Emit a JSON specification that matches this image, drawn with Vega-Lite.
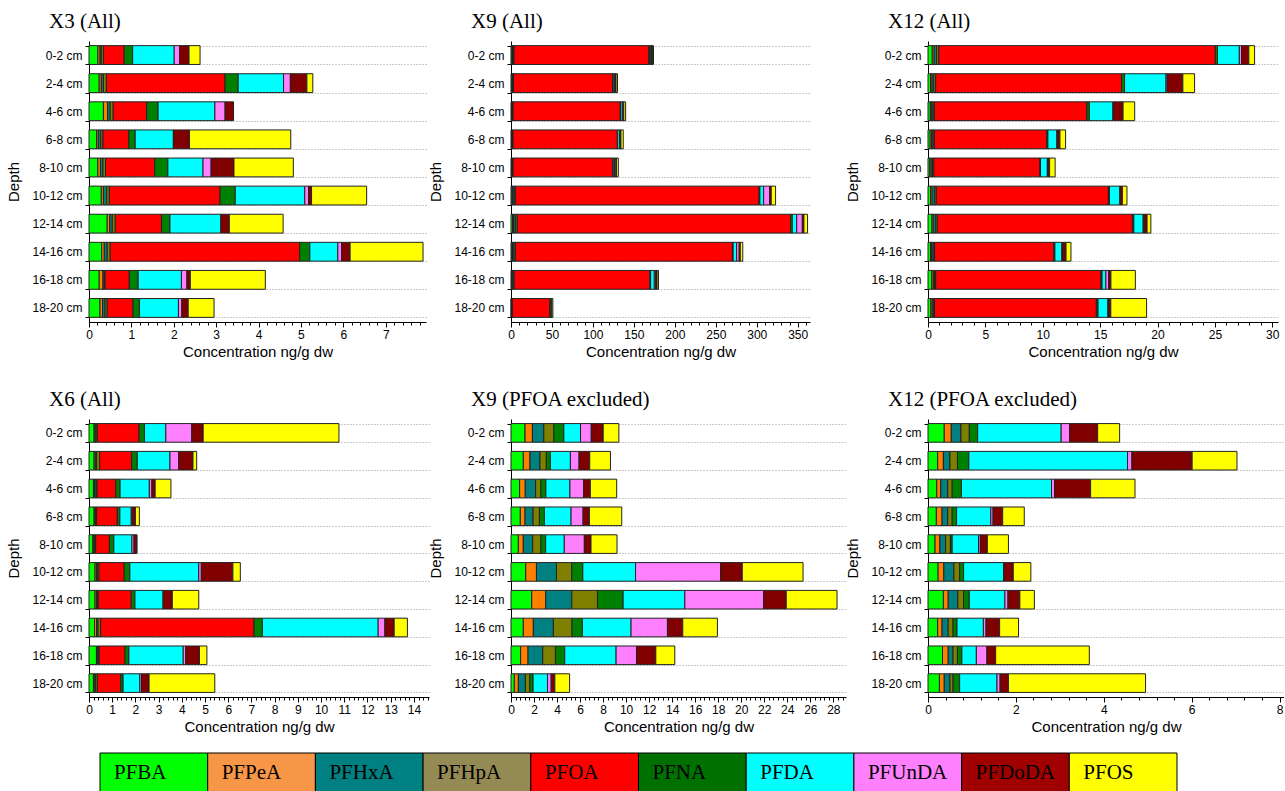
{
  "$schema": "https://vega.github.io/schema/vega-lite/v6.json",
  "padding": {"left": 6, "top": 11, "right": 0, "bottom": 0},
  "background": "white",
  "datasets": {
    "x3": [
      {"d": "0-2 cm", "PFBA": 0.21, "PFPeA": 0.05, "PFHxA": 0.03, "PFHpA": 0.05, "PFOA": 0.49, "PFNA": 0.20, "PFDA": 0.98, "PFUnDA": 0.13, "PFDoDA": 0.22, "PFOS": 0.26},
      {"d": "2-4 cm", "PFBA": 0.24, "PFPeA": 0.05, "PFHxA": 0.05, "PFHpA": 0.07, "PFOA": 2.80, "PFNA": 0.31, "PFDA": 1.07, "PFUnDA": 0.16, "PFDoDA": 0.39, "PFOS": 0.14},
      {"d": "4-6 cm", "PFBA": 0.34, "PFPeA": 0.10, "PFHxA": 0.06, "PFHpA": 0.07, "PFOA": 0.79, "PFNA": 0.27, "PFDA": 1.34, "PFUnDA": 0.24, "PFDoDA": 0.20, "PFOS": 0},
      {"d": "6-8 cm", "PFBA": 0.18, "PFPeA": 0.04, "PFHxA": 0.06, "PFHpA": 0.05, "PFOA": 0.61, "PFNA": 0.15, "PFDA": 0.90, "PFUnDA": 0, "PFDoDA": 0.38, "PFOS": 2.39},
      {"d": "8-10 cm", "PFBA": 0.21, "PFPeA": 0.06, "PFHxA": 0.06, "PFHpA": 0.06, "PFOA": 1.16, "PFNA": 0.31, "PFDA": 0.83, "PFUnDA": 0.19, "PFDoDA": 0.54, "PFOS": 1.40},
      {"d": "10-12 cm", "PFBA": 0.29, "PFPeA": 0.05, "PFHxA": 0.08, "PFHpA": 0.06, "PFOA": 2.61, "PFNA": 0.36, "PFDA": 1.64, "PFUnDA": 0.09, "PFDoDA": 0.07, "PFOS": 1.30},
      {"d": "12-14 cm", "PFBA": 0.43, "PFPeA": 0.06, "PFHxA": 0.06, "PFHpA": 0.07, "PFOA": 1.09, "PFNA": 0.20, "PFDA": 1.20, "PFUnDA": 0, "PFDoDA": 0.20, "PFOS": 1.27},
      {"d": "14-16 cm", "PFBA": 0.30, "PFPeA": 0.06, "PFHxA": 0.07, "PFHpA": 0.07, "PFOA": 4.47, "PFNA": 0.24, "PFDA": 0.66, "PFUnDA": 0.09, "PFDoDA": 0.20, "PFOS": 1.72},
      {"d": "16-18 cm", "PFBA": 0.24, "PFPeA": 0.09, "PFHxA": 0.03, "PFHpA": 0.02, "PFOA": 0.57, "PFNA": 0.21, "PFDA": 1.02, "PFUnDA": 0.13, "PFDoDA": 0.08, "PFOS": 1.77},
      {"d": "18-20 cm", "PFBA": 0.26, "PFPeA": 0.06, "PFHxA": 0.06, "PFHpA": 0.05, "PFOA": 0.61, "PFNA": 0.15, "PFDA": 0.92, "PFUnDA": 0.08, "PFDoDA": 0.15, "PFOS": 0.61}
    ],
    "x9": [
      {"d": "0-2 cm", "PFBA": 1.22, "PFPeA": 0.64, "PFHxA": 0.99, "PFHpA": 0.87, "PFOA": 164.6, "PFNA": 0.87, "PFDA": 1.45, "PFUnDA": 0.93, "PFDoDA": 1.04, "PFOS": 1.36},
      {"d": "2-4 cm", "PFBA": 1.07, "PFPeA": 0.58, "PFHxA": 0.87, "PFHpA": 0.55, "PFOA": 121.4, "PFNA": 0.35, "PFDA": 1.74, "PFUnDA": 0.75, "PFDoDA": 0.93, "PFOS": 1.80},
      {"d": "4-6 cm", "PFBA": 0.75, "PFPeA": 0.49, "PFHxA": 0.90, "PFHpA": 0.46, "PFOA": 130.8, "PFNA": 0.43, "PFDA": 2.09, "PFUnDA": 1.19, "PFDoDA": 0.58, "PFOS": 2.29},
      {"d": "6-8 cm", "PFBA": 0.81, "PFPeA": 0.41, "PFHxA": 0.70, "PFHpA": 0.55, "PFOA": 127.4, "PFNA": 0.43, "PFDA": 2.32, "PFUnDA": 1.04, "PFDoDA": 0.55, "PFOS": 2.81},
      {"d": "8-10 cm", "PFBA": 0.64, "PFPeA": 0.43, "PFHxA": 0.81, "PFHpA": 0.72, "PFOA": 121.8, "PFNA": 0.41, "PFDA": 1.62, "PFUnDA": 1.74, "PFDoDA": 0.58, "PFOS": 2.26},
      {"d": "10-12 cm", "PFBA": 1.28, "PFPeA": 0.93, "PFHxA": 1.74, "PFHpA": 1.33, "PFOA": 297.6, "PFNA": 0.96, "PFDA": 4.58, "PFUnDA": 7.39, "PFDoDA": 1.88, "PFOS": 5.28},
      {"d": "12-14 cm", "PFBA": 1.80, "PFPeA": 1.22, "PFHxA": 2.26, "PFHpA": 2.23, "PFOA": 333.7, "PFNA": 2.23, "PFDA": 5.36, "PFUnDA": 6.84, "PFDoDA": 1.97, "PFOS": 4.41},
      {"d": "14-16 cm", "PFBA": 1.07, "PFPeA": 0.87, "PFHxA": 1.74, "PFHpA": 1.62, "PFOA": 265.0, "PFNA": 0.90, "PFDA": 4.23, "PFUnDA": 3.16, "PFDoDA": 1.33, "PFOS": 3.01},
      {"d": "16-18 cm", "PFBA": 0.84, "PFPeA": 0.64, "PFHxA": 1.28, "PFHpA": 1.10, "PFOA": 165.8, "PFNA": 0.81, "PFDA": 4.46, "PFUnDA": 1.77, "PFDoDA": 1.68, "PFOS": 1.65},
      {"d": "18-20 cm", "PFBA": 0.29, "PFPeA": 0.35, "PFHxA": 0.61, "PFHpA": 0.38, "PFOA": 46.0, "PFNA": 0.29, "PFDA": 1.25, "PFUnDA": 0.32, "PFDoDA": 0.32, "PFOS": 1.28}
    ],
    "x12": [
      {"d": "0-2 cm", "PFBA": 0.37, "PFPeA": 0.16, "PFHxA": 0.22, "PFHpA": 0.19, "PFOA": 24.1, "PFNA": 0.19, "PFDA": 1.90, "PFUnDA": 0.19, "PFDoDA": 0.64, "PFOS": 0.50},
      {"d": "2-4 cm", "PFBA": 0.22, "PFPeA": 0.13, "PFHxA": 0.15, "PFHpA": 0.17, "PFOA": 16.2, "PFNA": 0.26, "PFDA": 3.61, "PFUnDA": 0.10, "PFDoDA": 1.37, "PFOS": 1.02},
      {"d": "4-6 cm", "PFBA": 0.20, "PFPeA": 0.09, "PFHxA": 0.16, "PFHpA": 0.10, "PFOA": 13.3, "PFNA": 0.21, "PFDA": 2.05, "PFUnDA": 0.07, "PFDoDA": 0.82, "PFOS": 1.01},
      {"d": "6-8 cm", "PFBA": 0.19, "PFPeA": 0.13, "PFHxA": 0.13, "PFHpA": 0.10, "PFOA": 9.8, "PFNA": 0.10, "PFDA": 0.78, "PFUnDA": 0.05, "PFDoDA": 0.22, "PFOS": 0.49},
      {"d": "8-10 cm", "PFBA": 0.16, "PFPeA": 0.11, "PFHxA": 0.13, "PFHpA": 0.11, "PFOA": 9.25, "PFNA": 0.04, "PFDA": 0.60, "PFUnDA": 0.04, "PFDoDA": 0.16, "PFOS": 0.48},
      {"d": "10-12 cm", "PFBA": 0.23, "PFPeA": 0.13, "PFHxA": 0.23, "PFHpA": 0.13, "PFOA": 15.0, "PFNA": 0.09, "PFDA": 0.91, "PFUnDA": 0, "PFDoDA": 0.22, "PFOS": 0.40},
      {"d": "12-14 cm", "PFBA": 0.35, "PFPeA": 0.11, "PFHxA": 0.22, "PFHpA": 0.13, "PFOA": 17.0, "PFNA": 0.13, "PFDA": 0.81, "PFUnDA": 0.07, "PFDoDA": 0.27, "PFOS": 0.33},
      {"d": "14-16 cm", "PFBA": 0.22, "PFPeA": 0.10, "PFHxA": 0.14, "PFHpA": 0.11, "PFOA": 10.4, "PFNA": 0.09, "PFDA": 0.60, "PFUnDA": 0.06, "PFDoDA": 0.31, "PFOS": 0.43},
      {"d": "16-18 cm", "PFBA": 0.33, "PFPeA": 0.13, "PFHxA": 0.11, "PFHpA": 0.10, "PFOA": 14.4, "PFNA": 0.10, "PFDA": 0.33, "PFUnDA": 0.24, "PFDoDA": 0.20, "PFOS": 2.13},
      {"d": "18-20 cm", "PFBA": 0.26, "PFPeA": 0.11, "PFHxA": 0.13, "PFHpA": 0.07, "PFOA": 14.1, "PFNA": 0.15, "PFDA": 0.85, "PFUnDA": 0.07, "PFDoDA": 0.19, "PFOS": 3.12}
    ],
    "x6": [
      {"d": "0-2 cm", "PFBA": 0.22, "PFPeA": 0.04, "PFHxA": 0.05, "PFHpA": 0.05, "PFOA": 1.80, "PFNA": 0.23, "PFDA": 0.92, "PFUnDA": 1.12, "PFDoDA": 0.49, "PFOS": 5.85},
      {"d": "2-4 cm", "PFBA": 0.22, "PFPeA": 0.05, "PFHxA": 0.06, "PFHpA": 0.13, "PFOA": 1.38, "PFNA": 0.24, "PFDA": 1.41, "PFUnDA": 0.37, "PFDoDA": 0.62, "PFOS": 0.16},
      {"d": "4-6 cm", "PFBA": 0.19, "PFPeA": 0.05, "PFHxA": 0.07, "PFHpA": 0.04, "PFOA": 0.80, "PFNA": 0.19, "PFDA": 1.26, "PFUnDA": 0.11, "PFDoDA": 0.14, "PFOS": 0.68},
      {"d": "6-8 cm", "PFBA": 0.22, "PFPeA": 0.04, "PFHxA": 0.04, "PFHpA": 0.03, "PFOA": 0.89, "PFNA": 0.11, "PFDA": 0.49, "PFUnDA": 0.04, "PFDoDA": 0.14, "PFOS": 0.17},
      {"d": "8-10 cm", "PFBA": 0.17, "PFPeA": 0.04, "PFHxA": 0.04, "PFHpA": 0.04, "PFOA": 0.59, "PFNA": 0.19, "PFDA": 0.78, "PFUnDA": 0.09, "PFDoDA": 0.11, "PFOS": 0.02},
      {"d": "10-12 cm", "PFBA": 0.26, "PFPeA": 0.06, "PFHxA": 0.04, "PFHpA": 0.07, "PFOA": 1.09, "PFNA": 0.24, "PFDA": 2.97, "PFUnDA": 0.11, "PFDoDA": 1.36, "PFOS": 0.32},
      {"d": "12-14 cm", "PFBA": 0.26, "PFPeA": 0.06, "PFHxA": 0.04, "PFHpA": 0.04, "PFOA": 1.42, "PFNA": 0.16, "PFDA": 1.21, "PFUnDA": 0, "PFDoDA": 0.40, "PFOS": 1.14},
      {"d": "14-16 cm", "PFBA": 0.24, "PFPeA": 0.09, "PFHxA": 0.06, "PFHpA": 0.11, "PFOA": 6.61, "PFNA": 0.36, "PFDA": 4.99, "PFUnDA": 0.29, "PFDoDA": 0.40, "PFOS": 0.57},
      {"d": "16-18 cm", "PFBA": 0.32, "PFPeA": 0.04, "PFHxA": 0.04, "PFHpA": 0.04, "PFOA": 1.11, "PFNA": 0.17, "PFDA": 2.34, "PFUnDA": 0.11, "PFDoDA": 0.59, "PFOS": 0.32},
      {"d": "18-20 cm", "PFBA": 0.19, "PFPeA": 0.06, "PFHxA": 0.04, "PFHpA": 0.07, "PFOA": 1.01, "PFNA": 0.10, "PFDA": 0.72, "PFUnDA": 0.07, "PFDoDA": 0.33, "PFOS": 2.83}
    ],
    "legend": [
      {"n": "PFBA"}, {"n": "PFPeA"}, {"n": "PFHxA"}, {"n": "PFHpA"}, {"n": "PFOA"},
      {"n": "PFNA"}, {"n": "PFDA"}, {"n": "PFUnDA"}, {"n": "PFDoDA"}, {"n": "PFOS"}
    ]
  },
  "vconcat": [
    {
      "columns": 3,
      "align": "each",
      "spacing": {"row": 30, "column": -1},
      "concat": [
        {
          "width": 337, "height": 281,
          "title": {"text": "X3 (All)"},
          "data": {"name": "x3"},
          "transform": [
            {"fold": ["PFBA","PFPeA","PFHxA","PFHpA","PFOA","PFNA","PFDA","PFUnDA","PFDoDA","PFOS"], "as": ["c","v"]},
            {"filter": "datum.v > 0"},
            {"calculate": "indexof(['PFBA','PFPeA','PFHxA','PFHpA','PFOA','PFNA','PFDA','PFUnDA','PFDoDA','PFOS'], datum.c)", "as": "o"}
          ],
          "mark": {"type": "bar", "stroke": "#222", "strokeWidth": 1},
          "encoding": {
            "y": {"field": "d", "type": "nominal", "sort": ["0-2 cm","2-4 cm","4-6 cm","6-8 cm","8-10 cm","10-12 cm","12-14 cm","14-16 cm","16-18 cm","18-20 cm"], "scale": {"paddingInner": 0.33, "paddingOuter": 0.165}, "axis": {"title": "Depth"}},
            "x": {"field": "v", "type": "quantitative", "stack": "zero", "scale": {"domain": [0, 7.95], "nice": false},
              "axis": {"title": "Concentration ng/g dw",
                "values": [0,0.2,0.4,0.6,0.8,1,1.2,1.4,1.6,1.8,2,2.2,2.4,2.6,2.8,3,3.2,3.4,3.6,3.8,4,4.2,4.4,4.6,4.8,5,5.2,5.4,5.6,5.8,6,6.2,6.4,6.6,6.8,7,7.2,7.4,7.6,7.8],
                "labelExpr": "abs(datum.value - round(datum.value)) < 0.001 ? format(datum.value, 'd') : ''",
                "tickSize": {"condition": {"test": "abs(datum.value - round(datum.value)) < 0.001", "value": 5}, "value": 3}}},
            "color": {"field": "c", "type": "nominal", "scale": {"domain": ["PFBA","PFPeA","PFHxA","PFHpA","PFOA","PFNA","PFDA","PFUnDA","PFDoDA","PFOS"], "range": ["#00ff00","#ff8000","#008080","#808000","#ff0000","#008000","#00ffff","#ff80ff","#800000","#ffff00"]}, "legend": null},
            "order": {"field": "o", "type": "quantitative"}
          }
        },
        {
          "width": 299, "height": 281,
          "title": {"text": "X9 (All)"},
          "data": {"name": "x9"},
          "transform": [
            {"fold": ["PFBA","PFPeA","PFHxA","PFHpA","PFOA","PFNA","PFDA","PFUnDA","PFDoDA","PFOS"], "as": ["c","v"]},
            {"filter": "datum.v > 0"},
            {"calculate": "indexof(['PFBA','PFPeA','PFHxA','PFHpA','PFOA','PFNA','PFDA','PFUnDA','PFDoDA','PFOS'], datum.c)", "as": "o"}
          ],
          "mark": {"type": "bar", "stroke": "#222", "strokeWidth": 1},
          "encoding": {
            "y": {"field": "d", "type": "nominal", "sort": ["0-2 cm","2-4 cm","4-6 cm","6-8 cm","8-10 cm","10-12 cm","12-14 cm","14-16 cm","16-18 cm","18-20 cm"], "scale": {"paddingInner": 0.33, "paddingOuter": 0.165}, "axis": {"title": "Depth"}},
            "x": {"field": "v", "type": "quantitative", "stack": "zero", "scale": {"domain": [0, 365], "nice": false},
              "axis": {"title": "Concentration ng/g dw",
                "values": [0,10,20,30,40,50,60,70,80,90,100,110,120,130,140,150,160,170,180,190,200,210,220,230,240,250,260,270,280,290,300,310,320,330,340,350,360],
                "labelExpr": "abs(datum.value/50 - round(datum.value/50)) < 0.001 ? format(datum.value, 'd') : ''",
                "tickSize": {"condition": {"test": "abs(datum.value/50 - round(datum.value/50)) < 0.001", "value": 5}, "value": 3}}},
            "color": {"field": "c", "type": "nominal", "scale": {"domain": ["PFBA","PFPeA","PFHxA","PFHpA","PFOA","PFNA","PFDA","PFUnDA","PFDoDA","PFOS"], "range": ["#00ff00","#ff8000","#008080","#808000","#ff0000","#008000","#00ffff","#ff80ff","#800000","#ffff00"]}, "legend": null},
            "order": {"field": "o", "type": "quantitative"}
          }
        },
        {
          "width": 350, "height": 281,
          "title": {"text": "X12 (All)"},
          "data": {"name": "x12"},
          "transform": [
            {"fold": ["PFBA","PFPeA","PFHxA","PFHpA","PFOA","PFNA","PFDA","PFUnDA","PFDoDA","PFOS"], "as": ["c","v"]},
            {"filter": "datum.v > 0"},
            {"calculate": "indexof(['PFBA','PFPeA','PFHxA','PFHpA','PFOA','PFNA','PFDA','PFUnDA','PFDoDA','PFOS'], datum.c)", "as": "o"}
          ],
          "mark": {"type": "bar", "stroke": "#222", "strokeWidth": 1},
          "encoding": {
            "y": {"field": "d", "type": "nominal", "sort": ["0-2 cm","2-4 cm","4-6 cm","6-8 cm","8-10 cm","10-12 cm","12-14 cm","14-16 cm","16-18 cm","18-20 cm"], "scale": {"paddingInner": 0.33, "paddingOuter": 0.165}, "axis": {"title": "Depth"}},
            "x": {"field": "v", "type": "quantitative", "stack": "zero", "scale": {"domain": [0, 30.5], "nice": false},
              "axis": {"title": "Concentration ng/g dw",
                "values": [0,1,2,3,4,5,6,7,8,9,10,11,12,13,14,15,16,17,18,19,20,21,22,23,24,25,26,27,28,29,30],
                "labelExpr": "abs(datum.value/5 - round(datum.value/5)) < 0.001 ? format(datum.value, 'd') : ''",
                "tickSize": {"condition": {"test": "abs(datum.value/5 - round(datum.value/5)) < 0.001", "value": 5}, "value": 3}}},
            "color": {"field": "c", "type": "nominal", "scale": {"domain": ["PFBA","PFPeA","PFHxA","PFHpA","PFOA","PFNA","PFDA","PFUnDA","PFDoDA","PFOS"], "range": ["#00ff00","#ff8000","#008080","#808000","#ff0000","#008000","#00ffff","#ff80ff","#800000","#ffff00"]}, "legend": null},
            "order": {"field": "o", "type": "quantitative"}
          }
        },
        {
          "width": 340, "height": 278,
          "title": {"text": "X6 (All)"},
          "data": {"name": "x6"},
          "transform": [
            {"fold": ["PFBA","PFPeA","PFHxA","PFHpA","PFOA","PFNA","PFDA","PFUnDA","PFDoDA","PFOS"], "as": ["c","v"]},
            {"filter": "datum.v > 0"},
            {"calculate": "indexof(['PFBA','PFPeA','PFHxA','PFHpA','PFOA','PFNA','PFDA','PFUnDA','PFDoDA','PFOS'], datum.c)", "as": "o"}
          ],
          "mark": {"type": "bar", "stroke": "#222", "strokeWidth": 1},
          "encoding": {
            "y": {"field": "d", "type": "nominal", "sort": ["0-2 cm","2-4 cm","4-6 cm","6-8 cm","8-10 cm","10-12 cm","12-14 cm","14-16 cm","16-18 cm","18-20 cm"], "scale": {"paddingInner": 0.33, "paddingOuter": 0.165}, "axis": {"title": "Depth"}},
            "x": {"field": "v", "type": "quantitative", "stack": "zero", "scale": {"domain": [0, 14.65], "nice": false},
              "axis": {"title": "Concentration ng/g dw",
                "values": [0,0.2,0.4,0.6,0.8,1,1.2,1.4,1.6,1.8,2,2.2,2.4,2.6,2.8,3,3.2,3.4,3.6,3.8,4,4.2,4.4,4.6,4.8,5,5.2,5.4,5.6,5.8,6,6.2,6.4,6.6,6.8,7,7.2,7.4,7.6,7.8,8,8.2,8.4,8.6,8.8,9,9.2,9.4,9.6,9.8,10,10.2,10.4,10.6,10.8,11,11.2,11.4,11.6,11.8,12,12.2,12.4,12.6,12.8,13,13.2,13.4,13.6,13.8,14,14.2,14.4,14.6],
                "labelExpr": "abs(datum.value - round(datum.value)) < 0.001 ? format(datum.value, 'd') : ''",
                "tickSize": {"condition": {"test": "abs(datum.value - round(datum.value)) < 0.001", "value": 5}, "value": 3}}},
            "color": {"field": "c", "type": "nominal", "scale": {"domain": ["PFBA","PFPeA","PFHxA","PFHpA","PFOA","PFNA","PFDA","PFUnDA","PFDoDA","PFOS"], "range": ["#00ff00","#ff8000","#008080","#808000","#ff0000","#008000","#00ffff","#ff80ff","#800000","#ffff00"]}, "legend": null},
            "order": {"field": "o", "type": "quantitative"}
          }
        },
        {
          "width": 335, "height": 278,
          "title": {"text": "X9 (PFOA excluded)"},
          "data": {"name": "x9"},
          "transform": [
            {"fold": ["PFBA","PFPeA","PFHxA","PFHpA","PFOA","PFNA","PFDA","PFUnDA","PFDoDA","PFOS"], "as": ["c","v"]},
            {"filter": "datum.v > 0 && datum.c !== 'PFOA'"},
            {"calculate": "indexof(['PFBA','PFPeA','PFHxA','PFHpA','PFOA','PFNA','PFDA','PFUnDA','PFDoDA','PFOS'], datum.c)", "as": "o"}
          ],
          "mark": {"type": "bar", "stroke": "#222", "strokeWidth": 1},
          "encoding": {
            "y": {"field": "d", "type": "nominal", "sort": ["0-2 cm","2-4 cm","4-6 cm","6-8 cm","8-10 cm","10-12 cm","12-14 cm","14-16 cm","16-18 cm","18-20 cm"], "scale": {"paddingInner": 0.33, "paddingOuter": 0.165}, "axis": {"title": "Depth"}},
            "x": {"field": "v", "type": "quantitative", "stack": "zero", "scale": {"domain": [0, 29.1], "nice": false},
              "axis": {"title": "Concentration ng/g dw",
                "values": [0,0.4,0.8,1.2,1.6,2,2.4,2.8,3.2,3.6,4,4.4,4.8,5.2,5.6,6,6.4,6.8,7.2,7.6,8,8.4,8.8,9.2,9.6,10,10.4,10.8,11.2,11.6,12,12.4,12.8,13.2,13.6,14,14.4,14.8,15.2,15.6,16,16.4,16.8,17.2,17.6,18,18.4,18.8,19.2,19.6,20,20.4,20.8,21.2,21.6,22,22.4,22.8,23.2,23.6,24,24.4,24.8,25.2,25.6,26,26.4,26.8,27.2,27.6,28,28.4,28.8],
                "labelExpr": "abs(datum.value/2 - round(datum.value/2)) < 0.001 ? format(datum.value, 'd') : ''",
                "tickSize": {"condition": {"test": "abs(datum.value/2 - round(datum.value/2)) < 0.001", "value": 5}, "value": 3}}},
            "color": {"field": "c", "type": "nominal", "scale": {"domain": ["PFBA","PFPeA","PFHxA","PFHpA","PFOA","PFNA","PFDA","PFUnDA","PFDoDA","PFOS"], "range": ["#00ff00","#ff8000","#008080","#808000","#ff0000","#008000","#00ffff","#ff80ff","#800000","#ffff00"]}, "legend": null},
            "order": {"field": "o", "type": "quantitative"}
          }
        },
        {
          "width": 356, "height": 278,
          "title": {"text": "X12 (PFOA excluded)"},
          "data": {"name": "x12"},
          "transform": [
            {"fold": ["PFBA","PFPeA","PFHxA","PFHpA","PFOA","PFNA","PFDA","PFUnDA","PFDoDA","PFOS"], "as": ["c","v"]},
            {"filter": "datum.v > 0 && datum.c !== 'PFOA'"},
            {"calculate": "indexof(['PFBA','PFPeA','PFHxA','PFHpA','PFOA','PFNA','PFDA','PFUnDA','PFDoDA','PFOS'], datum.c)", "as": "o"}
          ],
          "mark": {"type": "bar", "stroke": "#222", "strokeWidth": 1},
          "encoding": {
            "y": {"field": "d", "type": "nominal", "sort": ["0-2 cm","2-4 cm","4-6 cm","6-8 cm","8-10 cm","10-12 cm","12-14 cm","14-16 cm","16-18 cm","18-20 cm"], "scale": {"paddingInner": 0.33, "paddingOuter": 0.165}, "axis": {"title": "Depth"}},
            "x": {"field": "v", "type": "quantitative", "stack": "zero", "scale": {"domain": [0, 8.1], "nice": false},
              "axis": {"title": "Concentration ng/g dw",
                "values": [0,0.4,0.8,1.2,1.6,2,2.4,2.8,3.2,3.6,4,4.4,4.8,5.2,5.6,6,6.4,6.8,7.2,7.6,8],
                "labelExpr": "abs(datum.value/2 - round(datum.value/2)) < 0.001 ? format(datum.value, 'd') : ''",
                "tickSize": {"condition": {"test": "abs(datum.value/2 - round(datum.value/2)) < 0.001", "value": 5}, "value": 3}}},
            "color": {"field": "c", "type": "nominal", "scale": {"domain": ["PFBA","PFPeA","PFHxA","PFHpA","PFOA","PFNA","PFDA","PFUnDA","PFDoDA","PFOS"], "range": ["#00ff00","#ff8000","#008080","#808000","#ff0000","#008000","#00ffff","#ff80ff","#800000","#ffff00"]}, "legend": null},
            "order": {"field": "o", "type": "quantitative"}
          }
        }
      ]
    },
    {
      "width": 1099, "height": 39,
      "data": {"name": "legend"},
      "layer": [
        {
          "mark": {"type": "rect", "stroke": "#000", "strokeWidth": 1},
          "encoding": {
            "x": {"field": "n", "type": "nominal", "sort": null, "scale": {"paddingInner": 0, "paddingOuter": 0.102}, "axis": null},
            "color": {"field": "n", "type": "nominal", "scale": {"domain": ["PFBA","PFPeA","PFHxA","PFHpA","PFOA","PFNA","PFDA","PFUnDA","PFDoDA","PFOS"], "range": ["#00ff00","#f79646","#008080","#948a54","#ff0000","#007000","#00ffff","#ff80ff","#a00000","#ffff00"]}, "legend": null}
          }
        },
        {
          "mark": {"type": "text", "align": "left", "dx": 14, "font": "Liberation Serif", "fontSize": 21, "color": "#000"},
          "encoding": {
            "x": {"field": "n", "type": "nominal", "sort": null, "bandPosition": 0, "scale": {"paddingInner": 0, "paddingOuter": 0.102}, "axis": null},
            "text": {"field": "n"}
          }
        }
      ]
    }
  ],
  "spacing": 18,
  "resolve": {"scale": {"color": "independent"}},
  "config": {
    "view": {"stroke": null},
    "axis": {"labelFont": "Liberation Sans", "titleFont": "Liberation Sans", "labelFontSize": 12, "titleFontSize": 15, "titleFontWeight": "normal", "labelColor": "#000", "titleColor": "#000", "domainColor": "#000", "tickColor": "#000"},
    "axisX": {"grid": false, "labelOverlap": false, "labelPadding": 2, "titlePadding": 4, "labelFlush": false},
    "axisY": {"tickBand": "extent", "grid": true, "gridDash": [1, 2], "gridColor": "#999", "tickSize": 4, "labelPadding": 3, "titlePadding": 10},
    "title": {"font": "Liberation Serif", "fontSize": 21, "fontWeight": "normal", "anchor": "start", "frame": "group", "dx": -40, "offset": 3, "color": "#000"}
  }
}
